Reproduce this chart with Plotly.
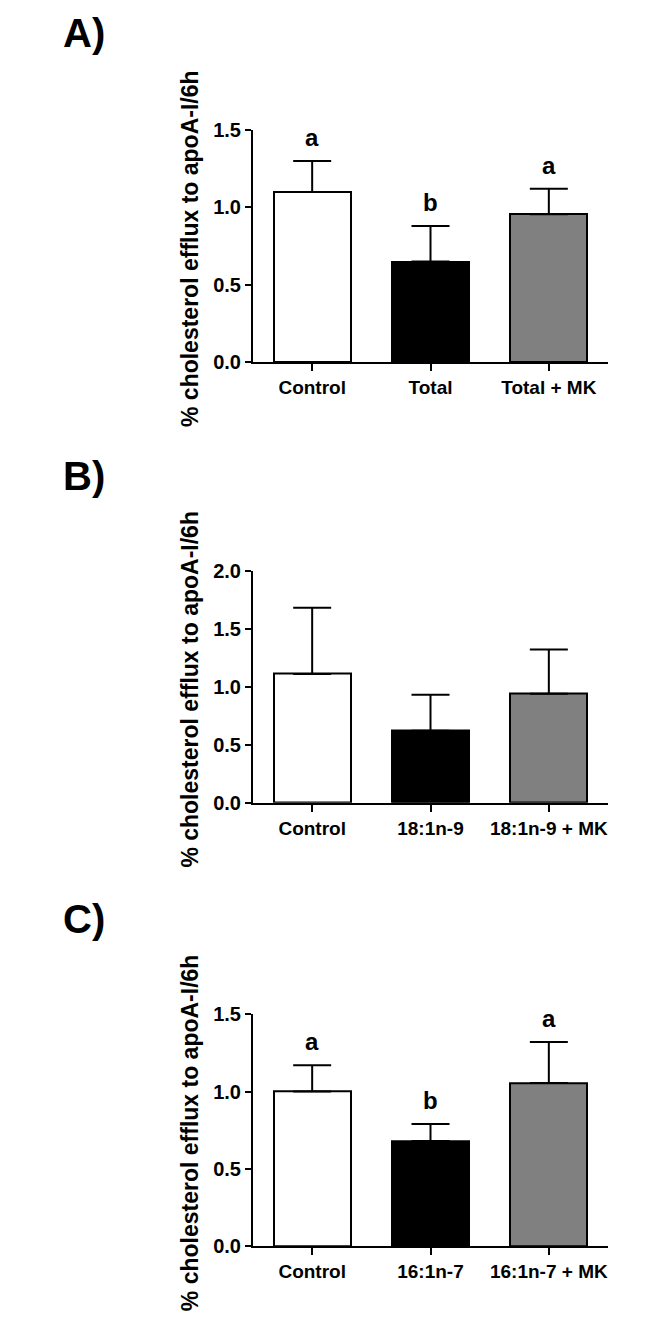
import plotly.graph_objects as go

W, H = 670, 1333

# ---- data ----
cats_a = ["Control", "Total", "Total + MK"]
mean_a = [1.10, 0.65, 0.955]
err_a = [0.20, 0.23, 0.165]
letters_a = ["a", "b", "a"]

cats_b = ["Control", "18:1n-9", "18:1n-9 + MK"]
mean_b = [1.11, 0.62, 0.94]
err_b = [0.57, 0.31, 0.38]
letters_b = ["", "", ""]

cats_c = ["Control", "16:1n-7", "16:1n-7 + MK"]
mean_c = [1.00, 0.68, 1.055]
err_c = [0.17, 0.11, 0.265]
letters_c = ["a", "b", "a"]

ymax = [1.5, 2.0, 1.5]
yticks = [[0, 0.5, 1.0, 1.5], [0, 0.5, 1.0, 1.5, 2.0], [0, 0.5, 1.0, 1.5]]
panel_labels = ["A)", "B)", "C)"]
ytitle = "% cholesterol efflux to apoA-I/6h"
bar_colors = ["#ffffff", "#000000", "#808080"]

FONT = "Liberation Sans, Arial, Helvetica, sans-serif"

# pixel layout
x0, x1 = 253, 608
panels_px = [(121, 357), (569, 805), (1020, 1256)]
label_pos = [(61, 22), (61, 473), (61, 923)]

fig = go.Figure()
data = [(cats_a, mean_a, err_a, letters_a), (cats_b, mean_b, err_b, letters_b),
        (cats_c, mean_c, err_c, letters_c)]

annotations = []
for i, (cats, mean, err, letters) in enumerate(data):
    n = i + 1
    xa = "x" if n == 1 else f"x{n}"
    ya = "y" if n == 1 else f"y{n}"
    fig.add_trace(go.Bar(
        x=list(range(len(cats))), y=mean, xaxis=xa, yaxis=ya,
        width=0.65,
        marker=dict(color=bar_colors, line=dict(color="black", width=2)),
        error_y=dict(type="data", symmetric=False, array=err,
                     arrayminus=[0] * len(err), color="black",
                     thickness=2, width=19),
        showlegend=False, hoverinfo="skip",
    ))
    top, bot = panels_px[i]
    dom_y = [1 - bot / H, 1 - top / H]
    axis_common = dict(showline=True, linecolor="black", linewidth=2,
                       ticks="outside", tickcolor="black", tickwidth=2,
                       showgrid=False, zeroline=False)
    fig.update_layout(**{
        ("xaxis" if n == 1 else f"xaxis{n}"): dict(
            domain=[x0 / W, x1 / W], range=[-0.5, 2.5], anchor=ya,
            tickmode="array", tickvals=list(range(len(cats))), ticktext=cats,
            ticklen=7,
            tickfont=dict(family=FONT, size=19, color="black", weight="bold"),
            **axis_common),
        ("yaxis" if n == 1 else f"yaxis{n}"): dict(
            domain=dom_y, range=[0, ymax[i]], anchor=xa,
            tickmode="array", tickvals=yticks[i],
            ticktext=[f"{v:.1f}" for v in yticks[i]],
            ticklen=6,
            tickfont=dict(family=FONT, size=20, color="black", weight="bold"),
            **axis_common),
    })
    for j, let in enumerate(letters):
        if let:
            annotations.append(dict(
                x=j, y=mean[j] + err[j], xref=xa, yref=ya, text=let,
                showarrow=False, yanchor="bottom", yshift=8,
                font=dict(family=FONT, size=24, color="black", weight="bold")))
    cy = (top + bot) / 2 + 3
    annotations.append(dict(
        x=190 / W, y=1 - cy / H, xref="paper", yref="paper",
        text=ytitle, textangle=-90, showarrow=False,
        xanchor="center", yanchor="middle",
        font=dict(family=FONT, size=23, color="black", weight="bold")))
    lx, ly = label_pos[i]
    annotations.append(dict(
        x=lx / W, y=1 - ly / H, xref="paper", yref="paper",
        text=panel_labels[i], showarrow=False,
        xanchor="left", yanchor="middle",
        font=dict(family=FONT, size=40, color="black", weight="bold")))

fig.update_layout(
    width=W, height=H, margin=dict(l=0, r=0, t=0, b=0),
    paper_bgcolor="white", plot_bgcolor="white",
    annotations=annotations, bargap=0,
)

fig.write_html("out.html", config={"displayModeBar": False},
               post_script="document.body.style.margin='0';document.body.style.padding='0';")
